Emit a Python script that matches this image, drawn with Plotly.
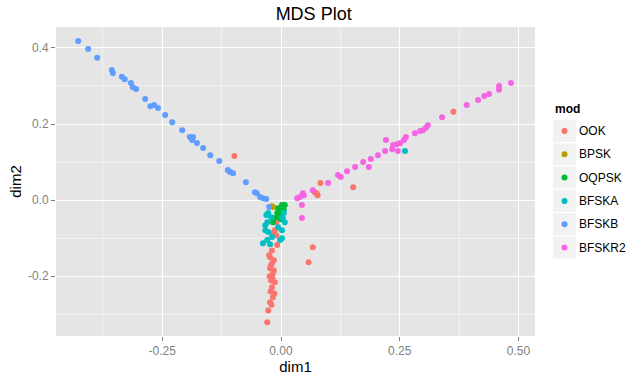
import plotly.graph_objects as go

categories = ["OOK", "BPSK", "OQPSK", "BFSKA", "BFSKB", "BFSKR2"]
colors = ["#F8766D", "#B79F00", "#00BA38", "#00BFC4", "#619CFF", "#F564E3"]

ook_x = [-0.098, 0.363, 0.152, 0.083, 0.071, 0.077, 0.075, 0.067, 0.058,
         -0.010, -0.013, -0.010, -0.008, -0.017, -0.019, -0.023, -0.019, -0.023,
         -0.017, -0.021, -0.013, -0.019, -0.017, -0.023, -0.027, -0.029,
         -0.025, -0.015, -0.021, -0.015, -0.024, -0.018, -0.022, -0.014, -0.020]
ook_y = [0.116, 0.232, 0.034, 0.045, 0.021, 0.013, 0.018, -0.124, -0.163,
         -0.058, -0.079, -0.092, -0.118, -0.087, -0.132, -0.150, -0.166, -0.179,
         -0.192, -0.211, -0.216, -0.229, -0.255, -0.268, -0.290, -0.321,
         -0.145, -0.158, -0.172, -0.185, -0.200, -0.205, -0.240, -0.245, -0.275]

bpsk_x = [-0.019, -0.017]
bpsk_y = [-0.016, -0.018]

oqpsk_x = [0.002, 0.004, 0.008, -0.006, -0.008, -0.013, -0.017, -0.002, 0.006, -0.004, 0.000]
oqpsk_y = [-0.013, -0.018, -0.013, -0.021, -0.034, -0.047, -0.058, -0.032, -0.026, -0.045, -0.050]

bfska_x = [0.261, -0.027, -0.029, -0.033, -0.027, -0.019, -0.029, -0.038, 0.004, 0.008,
           0.002, 0.002, -0.002, -0.006, -0.021, -0.031, -0.033, 0.006, -0.023]
bfska_y = [0.129, -0.034, -0.058, -0.079, -0.084, -0.097, -0.105, -0.113, -0.047, -0.058,
           -0.079, -0.100, -0.105, -0.071, -0.045, -0.039, -0.066, -0.034, -0.116]

bfskb_x = [-0.427, -0.406, -0.387, -0.356, -0.354, -0.335, -0.329, -0.316, -0.312, -0.305,
           -0.286, -0.275, -0.267, -0.259, -0.244, -0.229, -0.208, -0.192, -0.185, -0.187,
           -0.177, -0.164, -0.149, -0.130, -0.112, -0.107, -0.101, -0.074, -0.055, -0.051,
           -0.044, -0.038, -0.031, -0.025]
bfskb_y = [0.418, 0.397, 0.374, 0.342, 0.334, 0.324, 0.318, 0.308, 0.297, 0.292,
           0.266, 0.247, 0.250, 0.242, 0.224, 0.205, 0.184, 0.166, 0.166, 0.158,
           0.150, 0.137, 0.118, 0.103, 0.079, 0.074, 0.071, 0.047, 0.021, 0.018,
           0.008, 0.005, 0.003, -0.018]

bfskr2_x = [0.484, 0.459, 0.459, 0.438, 0.428, 0.415, 0.391, 0.339, 0.309, 0.305,
            0.299, 0.293, 0.282, 0.263, 0.259, 0.251, 0.244, 0.236, 0.221, 0.234,
            0.219, 0.246, 0.204, 0.189, 0.173, 0.185, 0.156, 0.139, 0.126, 0.120,
            0.099, 0.067, 0.048, 0.046, 0.040, 0.034, 0.044, 0.044]
bfskr2_y = [0.308, 0.300, 0.290, 0.279, 0.274, 0.263, 0.250, 0.218, 0.197, 0.190,
            0.184, 0.182, 0.176, 0.166, 0.158, 0.150, 0.147, 0.145, 0.158, 0.134,
            0.129, 0.129, 0.118, 0.108, 0.100, 0.087, 0.087, 0.076, 0.061, 0.066,
            0.045, 0.026, 0.013, 0.018, 0.008, 0.005, -0.013, -0.047]

series = [(ook_x, ook_y), (bpsk_x, bpsk_y), (oqpsk_x, oqpsk_y),
          (bfska_x, bfska_y), (bfskb_x, bfskb_y), (bfskr2_x, bfskr2_y)]

x_ticks = [-0.25, 0.0, 0.25, 0.5]
x_tick_labels = ["-0.25", "0.00", "0.25", "0.50"]
y_ticks = [-0.2, 0.0, 0.2, 0.4]
y_tick_labels = ["-0.2", "0.0", "0.2", "0.4"]

W, H = 626, 378
ML, MR, MT, MB = 56, 91, 27, 42
PW, PH = W - ML - MR, H - MT - MB


def px(xp):
    return (xp - ML) / PW


def py(yp):
    return (H - MB - yp) / PH


fig = go.Figure()
for name, col, (xs, ys) in zip(categories, colors, series):
    fig.add_trace(go.Scatter(x=xs, y=ys, mode="markers", name=name, showlegend=False,
                             marker=dict(color=col, size=6, line=dict(width=0))))

font = "Liberation Sans, Arial, sans-serif"

# manual ggplot-style legend
annotations = [dict(text="<b>mod</b>", xref="paper", yref="paper", x=px(553), y=py(109),
                    xanchor="left", yanchor="middle", showarrow=False,
                    font=dict(size=12, color="black", family=font))]
shapes = []
first_center, pitch = 131, 23.3
for i, (name, col) in enumerate(zip(categories, colors)):
    cy = first_center + i * pitch
    shapes.append(dict(type="rect", xref="paper", yref="paper",
                       x0=px(553), x1=px(576), y0=py(cy + 11), y1=py(cy - 11),
                       fillcolor="#F2F2F2", line=dict(width=0)))
    shapes.append(dict(type="circle", xref="paper", yref="paper",
                       x0=px(561.5), x1=px(567.5), y0=py(cy + 3), y1=py(cy - 3),
                       fillcolor=col, line=dict(width=0)))
    annotations.append(dict(text=name, xref="paper", yref="paper", x=px(577), y=py(cy),
                            xanchor="left", yanchor="middle", showarrow=False,
                            font=dict(size=12, color="black", family=font)))

fig.update_layout(
    width=W, height=H,
    margin=dict(l=ML, r=MR, t=MT, b=MB),
    paper_bgcolor="white", plot_bgcolor="#E5E5E5",
    font=dict(family=font, color="black"),
    title=dict(text="MDS Plot", x=px(296), xanchor="center", y=1 - 14 / H, yanchor="middle",
               font=dict(size=18, color="black")),
    showlegend=False,
    shapes=shapes,
    annotations=annotations,
)
fig.update_xaxes(range=[-0.4737, 0.5347], tickvals=x_ticks, ticktext=x_tick_labels,
                 automargin=False,
                 showgrid=True, gridcolor="white", gridwidth=1.4,
                 minor=dict(tickvals=[-0.375, -0.125, 0.125, 0.375], showgrid=True,
                            gridcolor="#F2F2F2", gridwidth=0.6, ticks=""),
                 ticks="outside", ticklen=4, tickcolor="#7F7F7F", tickwidth=1,
                 tickfont=dict(size=12, color="#7F7F7F"), zeroline=False,
                 title=dict(text="dim1", font=dict(size=15, color="black"), standoff=2))
fig.update_yaxes(range=[-0.357, 0.455], tickvals=y_ticks, ticktext=y_tick_labels,
                 automargin=False,
                 showgrid=True, gridcolor="white", gridwidth=1.4,
                 minor=dict(tickvals=[-0.3, -0.1, 0.1, 0.3], showgrid=True,
                            gridcolor="#F2F2F2", gridwidth=0.6, ticks=""),
                 ticks="outside", ticklen=4, tickcolor="#7F7F7F", tickwidth=1,
                 tickfont=dict(size=12, color="#7F7F7F"), zeroline=False,
                 title=dict(text="dim2", font=dict(size=15, color="black"), standoff=2))

fig.write_html("out.html", config={"displayModeBar": False},
               post_script="document.body.style.margin='0';")
